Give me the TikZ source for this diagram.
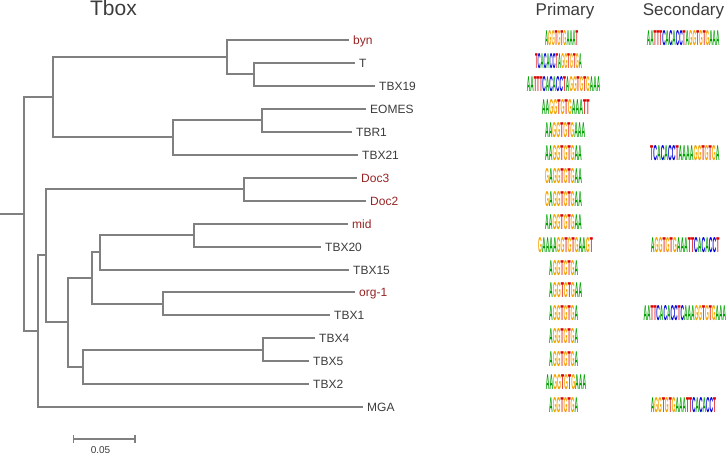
\documentclass[tikz,border=0pt]{standalone}
\usepackage{fontspec}
\setmainfont{Liberation Sans}
\newfontfamily\lgfont{Liberation Sans}
\usepackage{graphicx}
\usetikzlibrary{arrows.meta}
\definecolor{treegray}{RGB}{128,128,128}
\definecolor{labgray}{RGB}{60,60,60}
\definecolor{labred}{RGB}{150,35,35}
\definecolor{lgA}{RGB}{0,160,0}
\definecolor{lgC}{RGB}{0,0,220}
\definecolor{lgG}{RGB}{245,165,0}
\definecolor{lgT}{RGB}{220,0,0}
\def\lgparse#1{\ifx#1\relax\else\textcolor{lg#1}{#1}\expandafter\lgparse\fi}
\newcommand\seqlogo[3]{\resizebox{#1pt}{#2pt}{\lgfont\bfseries\lgparse#3\relax}}
\tikzset{
  branch/.style={draw=treegray, line width=2pt, line join=miter},
  leaf/.style={font=\fontsize{12}{12}\selectfont, text=labgray, inner xsep=4pt, inner ysep=0pt, text height=8.6pt, text depth=0pt, anchor=west},
  redleaf/.style={leaf, text=labred},
  logobox/.style={inner sep=0pt, anchor=west},
  header/.style={font=\fontsize{17}{17}\selectfont, text=labgray, inner sep=0pt, anchor=base},
}
\begin{document}
\begin{tikzpicture}[x=1pt, y=-1pt]
\useasboundingbox (0,0) rectangle (726,454);
% titles
\node[header, font=\fontsize{21}{21}\selectfont] (title) at (113.5,16) {Tbox};
\node[header] (hprim) at (565,16) {Primary};
\node[header] (hsec) at (683.5,16) {Secondary};
% internal nodes
\coordinate (R0) at (0,214);
\coordinate (R) at (24,214);
\coordinate (n1) at (53,97);
\coordinate (n2) at (227,57);
\coordinate (n3) at (254,74);
\coordinate (n4) at (173,137);
\coordinate (n5) at (262,120);
\coordinate (n6) at (38,331);
\coordinate (n7) at (46,255);
\coordinate (n8) at (244,189);
\coordinate (n9) at (68,322);
\coordinate (n10) at (92,278);
\coordinate (n11) at (100,252);
\coordinate (n11a) at (194,235);
\coordinate (n12) at (163,304);
\coordinate (n13) at (83,367);
\coordinate (n14) at (263,350);
% leaves
\node[redleaf] (byn) at (349,40) {byn};
\node[leaf] (T) at (355,63) {T};
\node[leaf] (TBX19) at (375,86) {TBX19};
\node[leaf] (EOMES) at (366,109) {EOMES};
\node[leaf] (TBR1) at (352,132) {TBR1};
\node[leaf] (TBX21) at (358,155) {TBX21};
\node[redleaf] (Doc3) at (357,178) {Doc3};
\node[redleaf] (Doc2) at (366,201) {Doc2};
\node[redleaf] (mid) at (348,224) {mid};
\node[leaf] (TBX20) at (321,247) {TBX20};
\node[leaf] (TBX15) at (349,270) {TBX15};
\node[redleaf] (org1) at (355,292) {org-1};
\node[leaf] (TBX1) at (330,315) {TBX1};
\node[leaf] (TBX4) at (315,338) {TBX4};
\node[leaf] (TBX5) at (309,361) {TBX5};
\node[leaf] (TBX2) at (309,384) {TBX2};
\node[leaf] (MGA) at (363,407) {MGA};
% branches
\draw[branch] (R0) -- (R);
\draw[branch] (R) |- (n1);
\draw[branch] (R) |- (n6);
\draw[branch] (n1) |- (n2);
\draw[branch] (n1) |- (n4);
\draw[branch] (n2) |- (byn.west);
\draw[branch] (n2) |- (n3);
\draw[branch] (n3) |- (T.west);
\draw[branch] (n3) |- (TBX19.west);
\draw[branch] (n4) |- (n5);
\draw[branch] (n4) |- (TBX21.west);
\draw[branch] (n5) |- (EOMES.west);
\draw[branch] (n5) |- (TBR1.west);
\draw[branch] (n6) |- (n7);
\draw[branch] (n6) |- (MGA.west);
\draw[branch] (n7) |- (n8);
\draw[branch] (n7) |- (n9);
\draw[branch] (n8) |- (Doc3.west);
\draw[branch] (n8) |- (Doc2.west);
\draw[branch] (n9) |- (n10);
\draw[branch] (n9) |- (n13);
\draw[branch] (n10) |- (n11);
\draw[branch] (n10) |- (n12);
\draw[branch] (n11) |- (n11a);
\draw[branch] (n11) |- (TBX15.west);
\draw[branch] (n11a) |- (mid.west);
\draw[branch] (n11a) |- (TBX20.west);
\draw[branch] (n12) |- (org1.west);
\draw[branch] (n12) |- (TBX1.west);
\draw[branch] (n13) |- (n14);
\draw[branch] (n13) |- (TBX2.west);
\draw[branch] (n14) |- (TBX4.west);
\draw[branch] (n14) |- (TBX5.west);
% scale bar
\coordinate (sb1) at (72.5,439);
\coordinate (sb2) at (135.5,439);
\draw[draw=treegray, line width=1.5pt, {Bar[width=8pt]}-{Bar[width=8pt]}] (sb1) -- (sb2);
\node[font=\fontsize{10}{10}\selectfont, text=labgray, inner sep=0pt] (sblab) at (100.5,450) {0.05};
% primary logos
\node[logobox] (p1) at (545,38.5) {\seqlogo{33}{15}{AGGTGTGAAAT}};
\node[logobox] (p2) at (535,61.5) {\seqlogo{46.7}{15}{TCACACCTAGGTGTGA}};
\node[logobox] (p3) at (526.7,84.5) {\seqlogo{73.3}{15}{AATTTCACACCTAGGTGTGAAA}};
\node[logobox] (p4) at (541.7,107.5) {\seqlogo{47.6}{15}{AAGGTGTGAAATT}};
\node[logobox] (p5) at (545,130.5) {\seqlogo{40}{15}{AAGGTGTGAAA}};
\node[logobox] (p6) at (545,153.5) {\seqlogo{36.7}{15}{AAGGTGTGAA}};
\node[logobox] (p7) at (545,176.5) {\seqlogo{36.7}{15}{GAGGTGTGAA}};
\node[logobox] (p8) at (545,199.5) {\seqlogo{36.7}{15}{GAGGTGTGAA}};
\node[logobox] (p9) at (545,222.5) {\seqlogo{36.7}{15}{AAGGTGTGAA}};
\node[logobox] (p10) at (538,245.5) {\seqlogo{54.7}{15}{GAAAAGGTGTGAAGT}};
\node[logobox] (p11) at (549,268.5) {\seqlogo{29}{15}{AGGTGTGA}};
\node[logobox] (p12) at (549,290.5) {\seqlogo{33}{15}{AGGTGTGAA}};
\node[logobox] (p13) at (549,313.5) {\seqlogo{29}{15}{AGGTGTGA}};
\node[logobox] (p14) at (549,336.5) {\seqlogo{29}{15}{AGGTGTGA}};
\node[logobox] (p15) at (549,359.5) {\seqlogo{29}{15}{AGGTGTGA}};
\node[logobox] (p16) at (545.7,382.5) {\seqlogo{40.3}{15}{AAGGTGTGAAA}};
\node[logobox] (p17) at (549,405.5) {\seqlogo{29}{15}{AGGTGTGA}};
% secondary logos
\node[logobox] (s1) at (646.7,38.5) {\seqlogo{72.6}{15}{AATTTCACACCTAGGTGTGAAA}};
\node[logobox] (s6) at (650,153.5) {\seqlogo{69.3}{15}{TCACACCTAAAAGGTGTGA}};
\node[logobox] (s10) at (650.7,245.5) {\seqlogo{68.6}{15}{AGGTGTGAAATTCACACCT}};
\node[logobox] (s13) at (643.3,313.5) {\seqlogo{82.7}{15}{AATTCACACCTCAAAGGTGTGAAA}};
\node[logobox] (s17) at (650.7,405.5) {\seqlogo{65.3}{15}{AGGTGTGAAATTCACACCT}};
\end{tikzpicture}
\end{document}
